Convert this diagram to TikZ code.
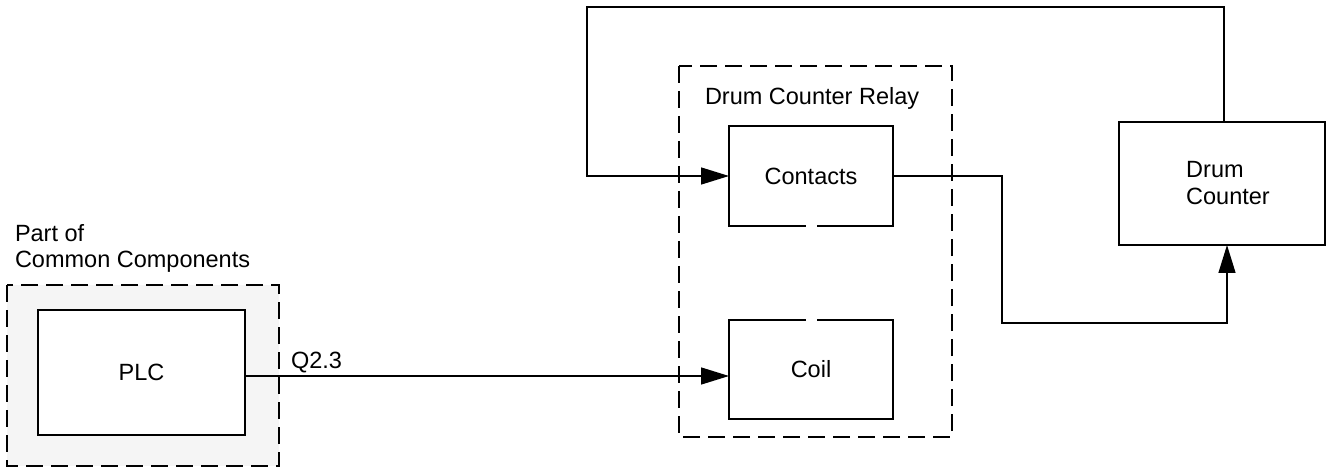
\documentclass[tikz,border=0pt]{standalone}
\usepackage{fontspec}
\setmainfont{Liberation Sans}
\usetikzlibrary{arrows.meta}
\tikzset{
  blk/.style={draw=black, line width=2.4pt, fill=white, rectangle, inner sep=0pt, outer sep=0pt, align=left},
  grp/.style={draw=black, line width=1.8pt, dash pattern=on 17pt off 8pt},
  wire/.style={draw=black, line width=1.4pt},
  arr/.style={wire, -{Triangle[length=28pt, width=17pt]}},
  lbl/.style={inner sep=0pt, outer sep=0pt},
  gap/.style={draw=white, line width=5pt},
}
\begin{document}
\begin{tikzpicture}[x=1pt, y=-1pt, font=\fontsize{23.5}{27}\selectfont]
\useasboundingbox (0,0) rectangle (1327,470);
% group frames
\draw[grp, fill=black!4] (7,285) rectangle (279,466);
\draw[grp] (679,66) rectangle (952,437);
% labels
\node[lbl, anchor=base west] (partof) at (15,242) {Part of};
\node[lbl, anchor=base west] (common) at (15,268) {Common Components};
\node[lbl, anchor=west] (relay) at (705,98) {Drum Counter Relay};
% blocks
\node[blk, minimum width=207pt, minimum height=125pt] (plc) at (141.5,372.5) {PLC};
\node[blk, minimum width=164pt, minimum height=100pt] (contacts) at (811,176) {Contacts};
\node[blk, minimum width=164pt, minimum height=99pt] (coil) at (811,369.5) {Coil};
\node[blk, minimum width=206pt, minimum height=123pt] (drum) at (1222,183.5) {\hspace*{12pt}Drum\\\hspace*{12pt}Counter};
% gaps in relay blocks
\draw[gap] ([xshift=-5.5pt]contacts.south) -- ([xshift=5.5pt]contacts.south);
\draw[gap] ([xshift=-5.5pt]coil.north) -- ([xshift=5.5pt]coil.north);
% helper coordinates
\coordinate (qy) at (0,376);
\coordinate (topy) at (0,7);
\coordinate (fbx) at (587,0);
\coordinate (dnx) at (1002,0);
\coordinate (boty) at (0,323);
\coordinate (upx) at (1227,0);
% connectors
\draw[arr] (plc.east |- qy) -- (coil.west |- qy);
\node[lbl, anchor=base west] (q23) at (291,368) {Q2.3};
\draw[arr] ([xshift=2pt]drum.north) -- ([xshift=2pt]drum.north |- topy) -- (fbx |- topy) -- (fbx |- contacts.west) -- (contacts.west);
\draw[arr] (contacts.east) -- (dnx |- contacts.east) -- (dnx |- boty) -- (upx |- boty) -- (upx |- drum.south);
\end{tikzpicture}
\end{document}
